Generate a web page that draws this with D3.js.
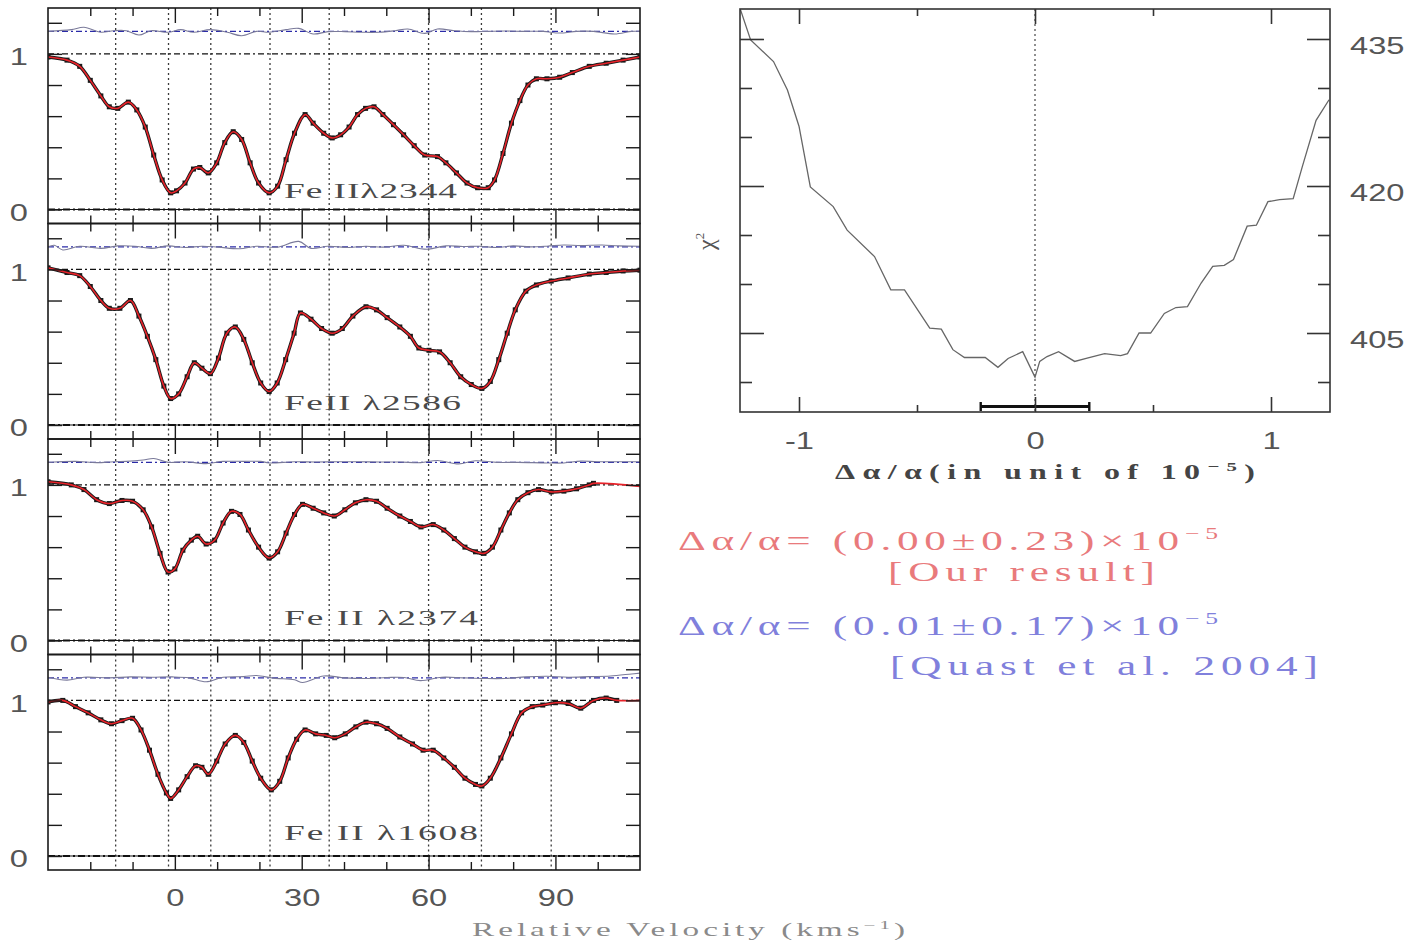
<!DOCTYPE html>
<html>
<head>
<meta charset="utf-8">
<script src="https://cdn.jsdelivr.net/npm/d3@7"></script>
<style>
  body { margin: 0; background: #fff; }
  svg { display: block; }
</style>
</head>
<body>
<svg id="fig" width="1412" height="947"></svg>
<script>
// ---------- Fe II absorption profiles (normalised flux vs relative velocity, km/s) ----------
const ionLabels = ["Fe II\u03bb2344", "FeII \u03bb2586", "Fe II \u03bb2374", "Fe II \u03bb1608"];

const vel2344 = [-30,-25.5,-22.5,-20,-17.5,-15.5,-13.5,-11,-9,-7,-5,-3,-1,0.4,2.4,4.4,5.9,7.9,9.9,11.8,13.8,15.8,17.8,19.8,22.3,24.3,26.3,28.3,30.8,32.7,35.2,37.2,39.2,41.2,43.2,45.1,47.1,49.2,51.7,54.1,56.6,59.1,62.1,64.1,66.6,69.1,71.6,74.1,75.6,77.6,79.6,81.6,83.5,85.5,88,91,94,98,102,106,110];
const flux2344 = [0.98,0.96,0.92,0.83,0.73,0.66,0.65,0.69,0.64,0.53,0.35,0.19,0.107,0.12,0.17,0.26,0.27,0.235,0.30,0.43,0.50,0.45,0.30,0.17,0.107,0.15,0.32,0.49,0.61,0.555,0.49,0.46,0.48,0.53,0.61,0.65,0.66,0.61,0.545,0.48,0.41,0.35,0.34,0.30,0.235,0.17,0.14,0.14,0.19,0.36,0.555,0.70,0.80,0.84,0.84,0.85,0.88,0.92,0.94,0.96,0.98];

const vel2586 = [-30,-25.5,-22.5,-20,-17.5,-15.5,-13,-10.5,-8.5,-6.5,-4.5,-2.6,-1,0.9,2.9,4.6,6.4,8.4,10.3,12.3,14.3,16.3,18.3,20.3,22.3,24.2,26.2,28.2,29.7,32.2,34.7,37.2,39.6,42.1,45.2,47.7,50.2,53.2,55.7,57.7,60.1,62.6,65.1,67.6,70.1,72.6,74.6,76.6,78.6,80.5,83,85.5,89,93,98,102,106,110];
const flux2586 = [1.01,0.98,0.96,0.89,0.80,0.75,0.75,0.80,0.70,0.57,0.42,0.25,0.17,0.20,0.31,0.40,0.365,0.33,0.43,0.59,0.63,0.55,0.40,0.27,0.215,0.27,0.42,0.59,0.72,0.68,0.62,0.59,0.62,0.70,0.76,0.74,0.69,0.63,0.57,0.495,0.48,0.47,0.40,0.31,0.26,0.235,0.28,0.42,0.59,0.74,0.86,0.90,0.925,0.945,0.97,0.98,0.99,0.995];

const vel2374 = [-30,-24.5,-21.5,-18.5,-15.5,-12.5,-10,-7.5,-5.5,-3.5,-1.6,0,1.9,3.9,5.4,7.4,9.4,11.4,13.4,15.4,17.4,19.8,22.3,24.3,26.3,28.3,30.2,32.7,35.2,37.7,40.2,42.7,45.2,47.7,50.2,53.2,55.7,58.2,61.1,63.6,66.1,68.6,71.1,73.1,75.1,77.1,79.1,81.1,83.5,86,89,92,95,98,99];
const flux2374 = [1.02,1.00,0.97,0.905,0.88,0.90,0.895,0.84,0.73,0.56,0.44,0.46,0.58,0.645,0.67,0.62,0.645,0.755,0.83,0.81,0.71,0.60,0.53,0.57,0.69,0.81,0.875,0.85,0.82,0.80,0.84,0.885,0.905,0.895,0.85,0.80,0.765,0.73,0.745,0.71,0.655,0.60,0.57,0.56,0.60,0.71,0.82,0.905,0.95,0.97,0.955,0.96,0.975,1.0,1.01];

const vel1608 = [-30,-26.5,-23.5,-20.5,-17.5,-15,-12.5,-10,-8,-6,-4,-2,-1,0.9,2.9,4.9,6.4,7.9,9.9,11.9,14.3,16.3,18.3,20.3,22.8,24.8,26.8,28.8,30.8,33.3,35.8,37.8,40.3,42.8,45.2,47.7,50.2,53.2,56.2,58.7,61.1,63.6,66.1,68.6,71.1,72.6,74.6,77.1,79.6,82,84.5,87,90,93,96,99,102,104.5];
const flux1608 = [0.99,1.0,0.96,0.92,0.875,0.85,0.87,0.885,0.81,0.68,0.525,0.405,0.37,0.425,0.51,0.58,0.57,0.525,0.61,0.72,0.775,0.73,0.61,0.50,0.425,0.48,0.63,0.75,0.81,0.785,0.775,0.76,0.785,0.83,0.86,0.85,0.82,0.765,0.72,0.68,0.68,0.63,0.57,0.50,0.46,0.45,0.50,0.63,0.785,0.92,0.96,0.97,0.985,0.98,0.95,1.0,1.015,1.0];

// continuum level of the fitted model beyond the last data pixel (null = data cover the range)
const fitTail = [null, null, 0.99, 1.0];

// ---------- residuals (data - model), drawn offset above the continuum ----------
const residOffset = 1.145;
const residVel2344 = [-30,-24.5,-21.5,-17.5,-14.5,-11.5,-8.5,-5.6,-1.6,1.4,4.4,8.4,12.4,15.8,19.3,22.3,26.3,29.3,32.7,36.2,40.2,44.2,48.2,52.1,55.1,59.1,62.1,66.1,70.1,74.1,78.1,82.1,87.1,91,95,99,104,108,110];
const resid2344 = [0,0.011,0.026,-0.006,0.004,0.004,-0.024,0.004,-0.006,0.011,-0.006,0.011,-0.006,-0.028,0,-0.006,0.011,0.019,-0.017,-0.002,-0.002,-0.006,-0.006,0.004,0.015,-0.013,0.015,0.004,-0.002,0,0.002,0,0,-0.011,0,0,-0.017,0,0];
const residVel2586 = [-30,-28.5,-26.5,-22.5,-17.5,-13.5,-9.5,-5.5,-1.6,2.4,6.4,10.3,15.3,19.3,24.2,29.3,32.2,36.2,41.2,45.2,49.2,54.2,58.1,60.1,64.1,68.1,72.1,76.1,80,84,88,92,96,101,105,110];
const resid2586 = [0,0.01,-0.02,0.004,-0.01,0.006,0.004,-0.01,0.006,-0.004,0.004,-0.002,-0.012,0.004,-0.002,0.035,-0.01,0.004,-0.004,0.004,-0.002,0.01,-0.012,-0.015,0.006,0.002,0.004,-0.004,0.006,0,0.004,0.012,0.008,0.012,0.006,0.004];
const residVel2374 = [-30,-28.5,-23.5,-18.5,-14.5,-11.5,-7.5,-5,-1.6,2.4,7.4,11.4,16.3,20.3,22.3,28.3,33.2,38.2,43.2,48.2,53.2,58.1,62.1,67.1,71.1,76.1,81.1,88,92,96,100,110];
const resid2374 = [0,0.002,0.006,-0.002,0.004,0.006,0.015,0.025,0,0.004,-0.008,0.006,0.006,0.006,-0.004,0.004,0.002,0.004,0.004,0.002,0.002,-0.002,0.012,-0.01,0.01,0,0,-0.004,-0.004,0.008,0.004,0.004];
const residVel1608 = [-30,-25.5,-21.5,-15.5,-10.5,-5.5,-0.6,3.4,7.4,11.4,16.3,19.3,23.3,28.3,30.2,35.2,40.2,45.2,50.2,54.2,58.1,63.1,68.1,73.1,78.1,83,88,93,98,103,108,110];
const resid1608 = [0.004,-0.015,0.004,0,0.006,0.004,0.006,0,-0.025,0.004,0.008,0.015,-0.002,-0.012,-0.03,0.012,0,-0.004,0.002,0.002,-0.018,0.004,0,-0.004,-0.004,0.006,0.01,0.004,0.008,0.012,0.025,0.03];

// velocity components of the fitted model
const componentVelocities = [-14, -1.5, 8.5, 22.5, 36.5, 60, 72.5, 89];

const velocityMajorTicks = [0, 30, 60, 90];
const velocityMinorTicks = [-20, -10, 10, 20, 40, 50, 70, 80, 100];
const fluxTicks = [0, 0.2, 0.4, 0.6, 0.8, 1.0, 1.2];
const fluxTickLabels = { 0: "0", 1: "1" };

// ---------- chi-square scan over delta-alpha/alpha (units of 1e-5) ----------
const alphaShift = [-1.248,-1.205,-1.108,-1.049,-1.0,-0.952,-0.855,-0.796,-0.68,-0.611,-0.553,-0.446,-0.397,-0.348,-0.299,-0.211,-0.157,-0.114,-0.052,0.0,0.02,0.051,0.1,0.168,0.217,0.295,0.363,0.392,0.441,0.49,0.548,0.597,0.646,0.704,0.753,0.802,0.841,0.899,0.938,0.987,1.036,1.094,1.133,1.191,1.246];
const chiSquare = [438.0,434.9,432.7,429.8,426.1,419.9,417.9,415.5,412.8,409.4,409.4,405.5,405.4,403.3,402.5,402.5,401.5,402.4,403.1,400.5,402.1,402.6,403.1,402.1,402.4,402.9,402.7,402.9,405.0,405.0,407.0,407.6,407.7,410.1,411.8,411.9,412.5,415.9,416.0,418.4,418.6,418.7,422.0,426.7,428.8];
const alphaMajorTicks = [-1, 0, 1];
const alphaMinorTicks = [-0.5, 0.5];
const chiMajorTicks = [405, 420, 435];
const chiMinorTicks = [400, 410, 415, 425, 430];

// best-fit result and its 1-sigma error
const bestAlpha = 0.00, bestAlphaErr = 0.23;
const quastAlpha = 0.01, quastAlphaErr = 0.17;

// ====================================================================
const svg = d3.select("#fig");
const sans = "'Liberation Sans', Arial, sans-serif";
const serif = "'Liberation Serif', 'DejaVu Serif', serif";
const frameColor = "#1a1a1a";
const labelStretch = 1.36;   // wide plotting-package digits

// text drawn with widened glyphs: stretch horizontally up to maxStretch, then spread letters
function wideText(parent, x, y, target, maxStretch, build) {
  const g = parent.append("g").attr("transform", `translate(${x},${y})`);
  const t = g.append("text").attr("x", 0).attr("y", 0);
  build(t);
  const w = t.node().getComputedTextLength();
  const s = Math.min(target / w, maxStretch);
  g.attr("transform", `translate(${x},${y}) scale(${s},1)`);
  if (target / s > w + 0.5) t.attr("textLength", target / s).attr("lengthAdjust", "spacing");
  return t;
}

// widen axis tick labels about their anchor
function widenTicks(sel, size) {
  sel.selectAll("text").each(function () {
    const el = d3.select(this);
    const x0 = +el.attr("x") || 0;
    el.attr("font-family", sans).attr("font-size", size).attr("fill", "#555")
      .attr("x", x0 / labelStretch).attr("transform", `scale(${labelStretch},1)`);
  });
}

const panels = [
  { label: ionLabels[0], vel: vel2344, flux: flux2344, rv: residVel2344, r: resid2344, tail: fitTail[0], labelW: 173, base: 183 },
  { label: ionLabels[1], vel: vel2586, flux: flux2586, rv: residVel2586, r: resid2586, tail: fitTail[1], labelW: 177, base: 179.5 },
  { label: ionLabels[2], vel: vel2374, flux: flux2374, rv: residVel2374, r: resid2374, tail: fitTail[2], labelW: 194, base: 179 },
  { label: ionLabels[3], vel: vel1608, flux: flux1608, rv: residVel1608, r: resid1608, tail: fitTail[3], labelW: 194, base: 178.5 }
];

const x = d3.scaleLinear().domain([-30, 110]).range([48, 640]);
const panelH = 215.5, firstTop = 8;

panels.forEach((p, i) => {
  const top = firstTop + i * panelH, bottom = top + panelH;
  const y = d3.scaleLinear().domain([-0.09, 1.295]).range([bottom, top]);
  const g = svg.append("g");

  const clipId = "clip" + i;
  svg.append("clipPath").attr("id", clipId)
    .append("rect").attr("x", x(-30)).attr("y", top).attr("width", x(110) - x(-30)).attr("height", panelH);
  const inner = g.append("g").attr("clip-path", `url(#${clipId})`);

  // component markers
  inner.selectAll(".comp").data(componentVelocities).join("line")
    .attr("x1", d => x(d)).attr("x2", d => x(d))
    .attr("y1", top).attr("y2", bottom)
    .attr("stroke", "#3a3a3a").attr("stroke-width", 1.3).attr("stroke-dasharray", "2,3");

  // continuum (1) and zero levels
  inner.append("line").attr("x1", x(-30)).attr("x2", x(110))
    .attr("y1", y(1)).attr("y2", y(1))
    .attr("stroke", "#111").attr("stroke-width", 1.2).attr("stroke-dasharray", "6,3,2,3");
  inner.append("line").attr("x1", x(-30)).attr("x2", x(110))
    .attr("y1", y(0)).attr("y2", y(0))
    .attr("stroke", "#111").attr("stroke-width", 1);
  inner.append("line").attr("x1", x(-30)).attr("x2", x(110))
    .attr("y1", y(0)).attr("y2", y(0))
    .attr("stroke", "#111").attr("stroke-width", 2).attr("stroke-dasharray", "7,3,2,3");

  // residuals
  inner.append("line").attr("x1", x(-30)).attr("x2", x(110))
    .attr("y1", y(residOffset)).attr("y2", y(residOffset))
    .attr("stroke", "#2b2ba8").attr("stroke-width", 1.3).attr("stroke-dasharray", "6,3,2,3");
  const residLine = d3.line().x(d => x(d[0])).y(d => y(residOffset + d[1])).curve(d3.curveCatmullRom);
  inner.append("path").datum(p.rv.map((v, k) => [v, p.r[k]]))
    .attr("d", residLine).attr("fill", "none")
    .attr("stroke", "#7a7a9a").attr("stroke-width", 1.1);

  // observed spectrum
  const pts = p.vel.map((v, k) => [v, p.flux[k]]);
  const dataLine = d3.line().x(d => x(d[0])).y(d => y(d[1])).curve(d3.curveCatmullRom);
  inner.append("path").datum(pts).attr("d", dataLine)
    .attr("fill", "none").attr("stroke", "#1a1a1a").attr("stroke-width", 3.4);
  inner.selectAll(".pix").data(pts).join("rect")
    .attr("x", d => x(d[0]) - 2.5).attr("y", d => y(d[1]) - 2.5)
    .attr("width", 5).attr("height", 5).attr("fill", "#1a1a1a");

  // fitted model
  const fitPts = p.tail === null ? pts : pts.concat([[110, p.tail]]);
  inner.append("path").datum(fitPts).attr("d", dataLine)
    .attr("fill", "none").attr("stroke", "#e8232a").attr("stroke-width", 1.6);

  // frame
  g.append("rect").attr("x", x(-30)).attr("y", top).attr("width", x(110) - x(-30)).attr("height", panelH)
    .attr("fill", "none").attr("stroke", frameColor).attr("stroke-width", 1.6);

  // ticks (inward on all four sides)
  const tickStyle = sel => { sel.select(".domain").remove(); sel.selectAll("line").attr("stroke", frameColor).attr("stroke-width", 1.4); };
  g.append("g").attr("transform", `translate(${x(-30)},0)`)
    .call(d3.axisLeft(y).tickValues(fluxTicks).tickSize(-14).tickPadding(20).tickFormat(d => fluxTickLabels[d] || ""))
    .call(tickStyle)
    .call(s => widenTicks(s, 24))
    .call(s => s.selectAll("text").attr("dy", "0.45em"));
  g.append("g").attr("transform", `translate(${x(110)},0)`)
    .call(d3.axisRight(y).tickValues(fluxTicks).tickSize(-14).tickFormat(""))
    .call(tickStyle);
  g.append("g").attr("transform", `translate(0,${top})`)
    .call(d3.axisTop(x).tickValues(velocityMinorTicks).tickSize(-8).tickFormat(""))
    .call(tickStyle);
  g.append("g").attr("transform", `translate(0,${top})`)
    .call(d3.axisTop(x).tickValues(velocityMajorTicks).tickSize(-15).tickFormat(""))
    .call(tickStyle);
  g.append("g").attr("transform", `translate(0,${bottom})`)
    .call(d3.axisBottom(x).tickValues(velocityMinorTicks).tickSize(-8).tickFormat(""))
    .call(tickStyle);
  g.append("g").attr("transform", `translate(0,${bottom})`)
    .call(d3.axisBottom(x).tickValues(velocityMajorTicks).tickSize(-15).tickPadding(19)
      .tickFormat(i === panels.length - 1 ? d3.format("d") : ""))
    .call(tickStyle)
    .call(s => widenTicks(s, 24));

  // transition label
  wideText(g, 284, top + p.base + 7, p.labelW, 1.7, t =>
    t.attr("font-family", serif).attr("font-size", 22).attr("fill", "#4a4a4a").text(p.label));
});

// velocity axis title
wideText(svg, 472, 936, 433, 1.75, t => {
  t.attr("font-family", serif).attr("font-size", 19).attr("fill", "#8a8a8a");
  t.append("tspan").text("Relative Velocity (kms");
  t.append("tspan").attr("dy", -7).attr("font-size", 12).text("\u22121");
  t.append("tspan").attr("dy", 7).text(")");
});

// ---------- chi-square panel ----------
const xr = d3.scaleLinear().domain([-1.25, 1.25]).range([740, 1330]);
const yr = d3.scaleLinear().domain([396.94, 438.06]).range([412, 9]);
const gr = svg.append("g");
const chiTickStyle = sel => { sel.select(".domain").remove(); sel.selectAll("line").attr("stroke", "#333").attr("stroke-width", 1.6); };

svg.append("clipPath").attr("id", "clipChi")
  .append("rect").attr("x", xr(-1.25)).attr("y", yr(438.06)).attr("width", xr(1.25) - xr(-1.25)).attr("height", yr(396.94) - yr(438.06));

gr.append("line").attr("x1", xr(0)).attr("x2", xr(0)).attr("y1", yr(438.06)).attr("y2", yr(396.94))
  .attr("stroke", "#555").attr("stroke-width", 1.3).attr("stroke-dasharray", "2,3");

gr.append("path").attr("clip-path", "url(#clipChi)")
  .datum(alphaShift.map((a, k) => [a, chiSquare[k]]))
  .attr("d", d3.line().x(d => xr(d[0])).y(d => yr(d[1])))
  .attr("fill", "none").attr("stroke", "#666").attr("stroke-width", 1.3);

// 1-sigma error bar on the best-fit value
const errY = yr(397.5);
gr.append("line").attr("x1", xr(bestAlpha - bestAlphaErr)).attr("x2", xr(bestAlpha + bestAlphaErr))
  .attr("y1", errY).attr("y2", errY).attr("stroke", "#111").attr("stroke-width", 3.2);
[bestAlpha - bestAlphaErr, bestAlpha + bestAlphaErr].forEach(a => {
  gr.append("line").attr("x1", xr(a)).attr("x2", xr(a)).attr("y1", errY - 4.5).attr("y2", errY + 4.5)
    .attr("stroke", "#111").attr("stroke-width", 2.4);
});

gr.append("rect").attr("x", xr(-1.25)).attr("y", yr(438.06))
  .attr("width", xr(1.25) - xr(-1.25)).attr("height", yr(396.94) - yr(438.06))
  .attr("fill", "none").attr("stroke", "#333").attr("stroke-width", 1.6);

gr.append("g").attr("transform", `translate(0,${yr(396.94)})`)
  .call(d3.axisBottom(xr).tickValues(alphaMajorTicks).tickSize(-15).tickPadding(20).tickFormat(d => d === 0 ? "0" : (d < 0 ? "-1" : "1")))
  .call(chiTickStyle)
  .call(s => widenTicks(s, 24));
gr.append("g").attr("transform", `translate(0,${yr(396.94)})`)
  .call(d3.axisBottom(xr).tickValues(alphaMinorTicks).tickSize(-7).tickFormat("")).call(chiTickStyle);
gr.append("g").attr("transform", `translate(0,${yr(438.06)})`)
  .call(d3.axisTop(xr).tickValues(alphaMajorTicks).tickSize(-15).tickFormat("")).call(chiTickStyle);
gr.append("g").attr("transform", `translate(0,${yr(438.06)})`)
  .call(d3.axisTop(xr).tickValues(alphaMinorTicks).tickSize(-7).tickFormat("")).call(chiTickStyle);
gr.append("g").attr("transform", `translate(${xr(-1.25)},0)`)
  .call(d3.axisLeft(yr).tickValues(chiMajorTicks).tickSize(-24).tickFormat("")).call(chiTickStyle);
gr.append("g").attr("transform", `translate(${xr(-1.25)},0)`)
  .call(d3.axisLeft(yr).tickValues(chiMinorTicks).tickSize(-12).tickFormat("")).call(chiTickStyle);
gr.append("g").attr("transform", `translate(${xr(1.25)},0)`)
  .call(d3.axisRight(yr).tickValues(chiMajorTicks).tickSize(-23).tickPadding(20).tickFormat(d3.format("d")))
  .call(chiTickStyle)
  .call(s => widenTicks(s, 24))
  .call(s => s.selectAll("text").attr("dy", "0.6em"));
gr.append("g").attr("transform", `translate(${xr(1.25)},0)`)
  .call(d3.axisRight(yr).tickValues(chiMinorTicks).tickSize(-12).tickFormat("")).call(chiTickStyle);

// axis titles
wideText(svg, 835, 479, 420, 1.6, t => {
  t.attr("font-family", serif).attr("font-size", 20).attr("font-weight", "bold").attr("fill", "#444");
  t.append("tspan").text("\u0394\u03b1/\u03b1(in unit of 10");
  t.append("tspan").attr("dy", -8).attr("font-size", 13).text("\u22125");
  t.append("tspan").attr("dy", 8).text(")");
});
{
  const c = svg.append("text").attr("transform", "translate(714,250) rotate(-90)")
    .attr("font-family", serif).attr("font-size", 24).attr("fill", "#555");
  c.append("tspan").text("\u03c7");
  c.append("tspan").attr("dy", -10).attr("font-size", 13).text("2");
}

// ---------- results ----------
const redText = "#e97a7c", blueText = "#8080dc";
function resultLine(yBase, value, err, color) {
  wideText(svg, 678, yBase, 540, 1.6, t => {
    t.attr("font-family", serif).attr("font-size", 27).attr("fill", color);
    t.append("tspan").text(`\u0394\u03b1/\u03b1= (${value.toFixed(2)}\u00b1${err.toFixed(2)})\u00d710`);
    t.append("tspan").attr("dy", -11).attr("font-size", 16).text("\u22125");
  });
}
resultLine(550, bestAlpha, bestAlphaErr, redText);
wideText(svg, 888, 581, 267, 1.6, t =>
  t.attr("font-family", serif).attr("font-size", 27).attr("fill", redText).text("[Our result]"));
resultLine(635, quastAlpha, quastAlphaErr, blueText);
wideText(svg, 890, 675, 428, 1.6, t =>
  t.attr("font-family", serif).attr("font-size", 27).attr("fill", blueText).text("[Quast et al. 2004]"));
</script>
</body>
</html>
